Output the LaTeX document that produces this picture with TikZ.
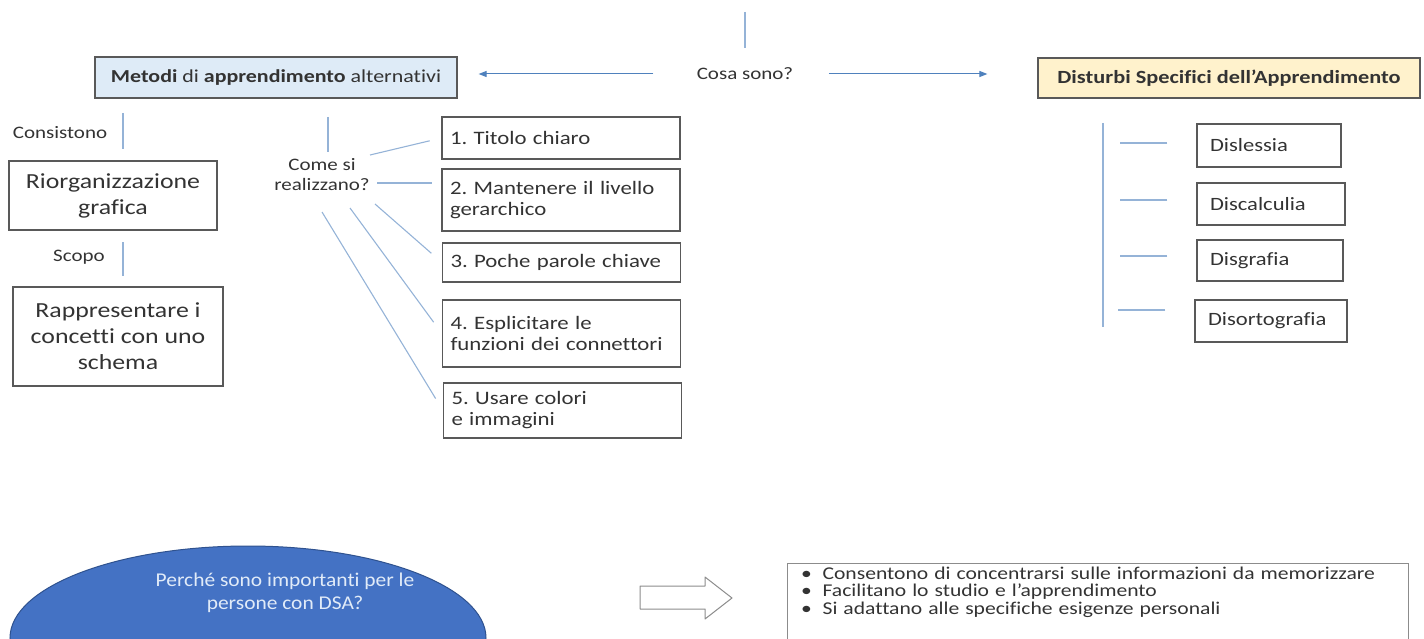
\documentclass[tikz,border=0pt]{standalone}
\usepackage{fontspec}
\setmainfont{Carlito}[FakeStretch=1.2, Ligatures=NoCommon]
\newfontfamily\ovalfont{Carlito}[FakeStretch=1.1, Ligatures=NoCommon]
\usepackage{tikz}
\usetikzlibrary{shapes.geometric,arrows.meta}
\definecolor{linkblue}{RGB}{149,179,215}
\definecolor{arrowblue}{RGB}{79,129,189}
\definecolor{boxgray}{RGB}{89,89,89}
\definecolor{inktext}{RGB}{51,51,51}
\definecolor{metodifill}{RGB}{222,235,247}
\definecolor{dsafill}{RGB}{255,242,204}
\definecolor{ovalblue}{RGB}{68,114,196}
\definecolor{ovaledge}{RGB}{47,82,143}
\definecolor{ovaltext}{RGB}{225,235,248}
\definecolor{hollowgray}{RGB}{140,140,140}
\newcommand{\bul}{\makebox[12pt][c]{•}\hspace{10pt}}
\frenchspacing

\begin{document}
\begin{tikzpicture}[x=1pt, y=-1pt,
    box/.style={draw=boxgray, line width=1.2pt, text=inktext, inner sep=0pt},
    stepbox/.style={box, align=left, inner xsep=8pt, text width=222pt, font=\fontsize{19}{21}\selectfont},
    dsabox/.style={box, align=left, inner xsep=13pt, font=\fontsize{18.8}{21}\selectfont},
    bigbox/.style={box, align=center, font=\fontsize{21.5}{26}\selectfont},
    note/.style={text=inktext, align=center, font=\fontsize{17.5}{20}\selectfont},
    link/.style={draw=linkblue, line width=1.1pt},
    pointer/.style={draw=arrowblue, line width=1pt, -{Triangle[length=8pt,width=6pt]}}]
    \useasboundingbox (0,0) rectangle (1424,639);
    \clip (0,0) rectangle (1424,639);

    % question in the middle
    \node[note] (cosa) at (745,74) {Cosa sono?};
    \coordinate (qtop) at (745,12);
    \coordinate (qbot) at (745,48);
    \draw[link] (qtop) -- (qbot);

    % the two headers
    \node[box, fill=metodifill, minimum width=362pt, minimum height=41pt, font=\fontsize{18.3}{21}\selectfont] (metodi) at (276,77.5) {\textbf{Metodi} di \textbf{apprendimento} alternativi};
    \node[box, fill=dsafill, minimum width=382pt, minimum height=40pt, font=\bfseries\fontsize{18.6}{21}\selectfont] (dsa) at (1229,78) {Disturbi Specifici dell’Apprendimento};
    \draw[pointer, shorten <=40pt, shorten >=21pt] (cosa.west) -- (cosa.west -| metodi.east);
    \draw[pointer, shorten <=32pt, shorten >=50pt] (cosa.east) -- (cosa.east -| dsa.west);

    % left column
    \node[note] (consist) at (60,133) {Consistono};
    \coordinate (ca) at (123,113);
    \coordinate (cb) at (123,149);
    \draw[link] (ca) -- (cb);
    \node[bigbox, minimum width=208pt, minimum height=69pt] (riorg) at (113,195.5) {Riorganizzazione\\grafica};
    \node[note] (scopo) at (79,257) {Scopo};
    \coordinate (sa) at (123,242);
    \coordinate (sb) at (123,276);
    \draw[link] (sa) -- (sb);
    \node[bigbox, minimum width=210pt, minimum height=99pt] (rappr) at (118,336.5) {Rappresentare i\\concetti con uno\\schema};

    % how they are made
    \node[note] (come) at (322,175) {Come si\\realizzano?};
    \coordinate (ha) at (328,117);
    \coordinate (hb) at (328,152);
    \draw[link] (ha) -- (hb);
    \node[stepbox, minimum height=42pt] (t1) at (561,138) {1. Titolo chiaro};
    \node[stepbox, minimum height=62pt] (t2) at (561,200) {2. Mantenere il livello\\gerarchico};
    \node[stepbox, minimum height=39pt] (t3) at (561.5,262.5) {3. Poche parole chiave};
    \node[stepbox, minimum height=67pt] (t4) at (561.5,333.5) {4. Esplicitare le\\funzioni dei connettori};
    \node[stepbox, minimum height=55pt] (t5) at (562.5,410.5) {5. Usare colori\\e immagini};
    \coordinate (h1) at (370,155);
    \coordinate (h2) at (377,183);
    \coordinate (h3) at (375,204);
    \coordinate (h4) at (350,208);
    \coordinate (h5) at (322,212);
    \draw[link, shorten >=12pt] (h1) -- (t1.west);
    \draw[link, shorten >=9pt] (h2) -- (h2 -| t2.west);
    \foreach \s/\t in {h3/t3, h4/t4, h5/t5}
        \draw[link, shorten >=14pt] (\s) -- (\t.west);

    % kinds of DSA
    \node[dsabox, text width=118pt, minimum height=43pt] (dis1) at (1269,145.5) {Dislessia};
    \node[dsabox, text width=122pt, minimum height=42pt] (dis2) at (1271,204) {Discalculia};
    \node[dsabox, text width=120pt, minimum height=41pt] (dis3) at (1270,260.5) {Disgrafia};
    \node[dsabox, text width=126pt, minimum height=42pt] (dis4) at (1271,321) {Disortografia};
    \coordinate (spinetop) at (1103,123);
    \coordinate (spinebot) at (1103,327);
    \draw[link] (spinetop) -- (spinebot);
    \foreach \d/\dy in {dis1/2.5, dis2/4, dis3/4.5, dis4/11}
        \draw[link] ([shift={(-29pt,\dy pt)}]\d.west) -- ++(-47pt,0pt);

    % why it matters
    \node[ellipse, fill=ovalblue, draw=ovaledge, line width=1pt, minimum width=476pt, minimum height=184pt] (why) at (248,638) {};
    \node[text=ovaltext, align=center, font=\ovalfont\fontsize{19.5}{23}\selectfont] (whytxt) at (285,593) {Perché sono importanti per le\\persone con DSA?};
    \draw[hollowgray, fill=white, line width=1pt, line join=round] (640,586) -- (705,586) -- (705,577) -- (732,598) -- (705,619) -- (705,609) -- (640,609) -- cycle;
    \node[box, draw=hollowgray, anchor=north west, align=left, text width=595pt, inner xsep=13pt, inner ysep=3pt, text depth=60pt, font=\fontsize{18}{17.5}\selectfont] (benefits) at (787,563)
        {\bul Consentono di concentrarsi sulle informazioni da memorizzare\\
         \bul Facilitano lo studio e l’apprendimento\\
         \bul Si adattano alle specifiche esigenze personali};
\end{tikzpicture}
\end{document}
